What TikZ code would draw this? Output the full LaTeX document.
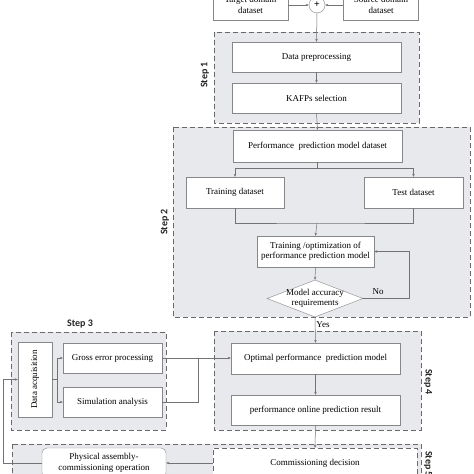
\documentclass[tikz,border=0pt]{standalone}
\usepackage{fontspec}
\setmainfont{Liberation Serif}
\newfontfamily\stepfont{Carlito}
\usetikzlibrary{shapes.geometric,arrows.meta}
\definecolor{regfill}{RGB}{232,233,237}
\definecolor{regline}{RGB}{105,105,108}
\definecolor{boxline}{RGB}{135,135,138}
\definecolor{conline}{RGB}{115,115,118}
\begin{document}
\begin{tikzpicture}[x=1pt,y=-1pt,
  region/.style={draw=regline,fill=regfill,dashed,dash pattern=on 5pt off 3pt,line width=0.7pt},
  proc/.style={draw=boxline,fill=white,inner sep=0pt,minimum height=30pt,minimum width=169pt,align=center,font=\fontsize{9}{10.5}\selectfont},
  tank/.style={cylinder,draw=boxline,fill=white,shape aspect=0.35,inner sep=0pt,minimum height=75pt,minimum width=34pt,align=center,font=\fontsize{9}{10.5}\selectfont},
  steplbl/.style={font=\stepfont\bfseries\fontsize{10}{11}\selectfont,text=black!85},
  conn/.style={draw=conline,line width=0.5pt},
  arr/.style={conn,-{Stealth[length=3pt,width=2.5pt]}}]
\useasboundingbox (0,0) rectangle (474,474);
\fill[white] (0,0) rectangle (474,474);

\draw[region] (214,32) rectangle (419,123);
\draw[region] (173,127) rectangle (470,317);
\draw[region] (214,331) rectangle (421,430);
\draw[region] (11,332) rectangle (166,430);
\draw[region] (12,444) rectangle (421,490);

\node[tank] (tgt) at (250.5,3) {};
\node[font=\fontsize{9}{10.5}\selectfont,align=center] (tgttxt) at (250.5,5) {Target domain\\dataset};
\node[tank] (src) at (381,3) {};
\node[font=\fontsize{9}{10.5}\selectfont,align=center] (srctxt) at (381,5) {Source domain\\dataset};
\node[draw=boxline,fill=white,circle,minimum size=16pt,inner sep=0pt,font=\bfseries\fontsize{10}{10}\selectfont] (sum) at (317,5) {+};

\node[proc] (dpre) at (316.5,57) {Data preprocessing};
\node[proc] (kafp) at (316.5,98) {KAFPs selection};
\node[proc,minimum height=32pt] (ppmd) at (317.5,146) {Performance\ \ prediction model dataset};
\node[proc,minimum width=98pt,minimum height=31pt] (trn) at (235,192.5) {Training dataset};
\node[proc,minimum width=99pt,minimum height=31pt] (tst) at (413.5,192.5) {Test dataset};
\node[proc,minimum width=117pt,minimum height=31pt] (topt) at (315.5,251.5) {Training /optimization of\\performance prediction model};
\node[diamond,draw=boxline,fill=white,minimum width=96pt,minimum height=37pt,inner sep=0pt] (acc) at (315,298.5) {};
\node[align=center,font=\fontsize{9}{10.5}\selectfont] (acctxt) at (acc) {Model accuracy\\requirements};
\node[proc,minimum height=31pt] (opt) at (315.5,358.5) {Optimal performance\ \ prediction model};
\node[proc] (onl) at (315.5,410) {performance online prediction result};
\node[proc,minimum width=34pt,minimum height=75pt] (dacq) at (35,379.5) {};
\node[rotate=90,font=\fontsize{9}{10.5}\selectfont] (dacqtxt) at (dacq) {Data acquisition};
\node[proc,minimum width=99pt] (gep) at (112.5,358) {Gross error processing};
\node[proc,minimum width=99pt] (sim) at (112.5,402) {Simulation analysis};
\node[proc,rounded corners=5pt,minimum width=124pt] (phys) at (104,463) {Physical assembly-\\commissioning operation};
\node[proc,dashed,draw=regline,dash pattern=on 5pt off 3pt,minimum width=204pt] (cdec) at (315,463) {Commissioning decision};

\node[steplbl,rotate=90] (s1) at (205,75) {Step 1};
\node[steplbl,rotate=90] (s2) at (165,222) {Step 2};
\node[steplbl] (s3) at (80,324) {Step 3};
\node[steplbl,rotate=-90] (s4) at (428,382) {Step 4};
\node[steplbl,rotate=-90] (s5) at (428,464) {Step 5};
\node[font=\fontsize{9}{10.5}\selectfont] (yes) at (323,325) {Yes};
\node[font=\fontsize{9}{10.5}\selectfont] (no) at (378,292) {No};

\draw[arr] (tgt.east |- sum) -- (sum.west);
\draw[arr] (src.west |- sum) -- (sum.east);
\draw[arr] (sum.south) -- (dpre.north);
\draw[arr] (dpre) -- (kafp);
\draw[arr] (kafp.south) -- (ppmd.north);
\draw[arr] (ppmd.south) -- ++(0,6) -| (trn.north);
\draw[arr] (ppmd.south) -- ++(0,6) -| (tst.north);
\coordinate (mrg) at (317,223);
\draw[conn] (trn.south) |- (mrg) -| (tst.south);
\draw[arr] (mrg) -- (topt.north);
\draw[arr] (topt.south) -- (acc.north);
\draw[arr] (acc.east) -- (409,298.5) |- (topt.east);
\draw[arr] (acc.south) -- (opt.north);
\draw[arr] (opt) -- (onl);
\draw[arr] (onl.south) -- (cdec.north);
\coordinate (spl) at (57,379.5);
\draw[conn] (dacq.east) -- (spl);
\draw[arr] (spl) |- (gep.west);
\draw[arr] (spl) |- (sim.west);
\coordinate (jn) at (198,358);
\draw[conn] (sim.east) -| (jn);
\draw[arr] (gep.east) -- (opt.west |- gep.east);
\draw[arr] (cdec.west) -- (phys.east);
\draw[arr] (phys.west) -- (3,463) |- (dacq.west);
\end{tikzpicture}
\end{document}
